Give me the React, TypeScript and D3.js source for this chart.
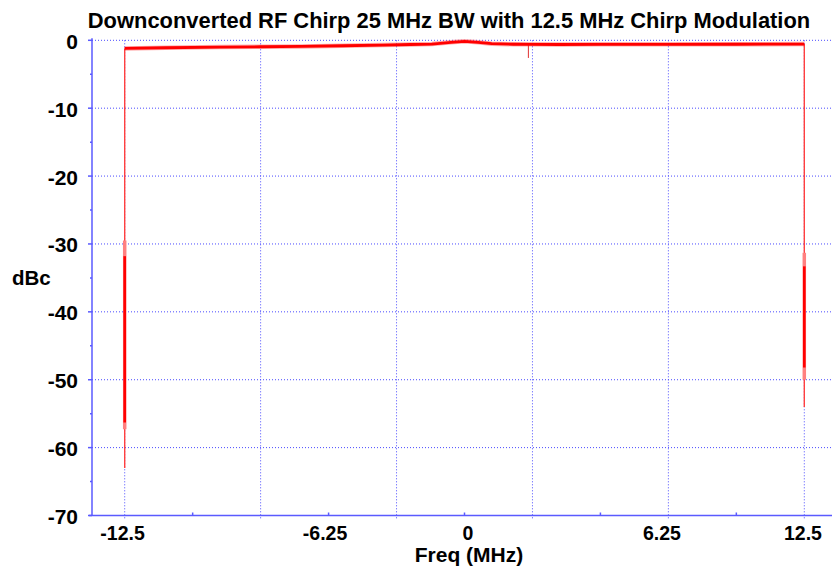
import React from "react";
import * as d3 from "d3";

// trace (MHz, dBc)
const freqMHz = [-12.5, -11, -9, -7.5, -6, -4.5, -3, -2, -1.2, -0.5, 0, 0.5, 1.0, 1.8, 2.4, 3.5, 5, 7.5, 10, 12.5];
const levelDb = [-1.2, -1.1, -1.0, -0.95, -0.9, -0.8, -0.7, -0.62, -0.55, -0.3, -0.15, -0.3, -0.5, -0.58, -0.6, -0.62, -0.6, -0.6, -0.58, -0.55];

// narrow drop-out spike on the flat top
const spikeFreq = [2.35];
const spikeDb = [-2.6];

// band edges: where the sweep drops away
const edgeFreq = [-12.5, 12.5];
const edgeFloor = [-63, -54];
const edgeBandTop = [-29.5, -31.3];
const edgeBandBottom = [-57.3, -50];
const edgeCoreTop = [-31.8, -33.3];
const edgeCoreBottom = [-56.3, -48.2];

const yTicks = [0, -10, -20, -30, -40, -50, -60, -70];
const yMinor = [-5, -15, -25, -35, -45, -55, -65];
const xGrid = [-12.5, -7.5, -2.5, 2.5, 7.5, 12.5];
const xMinor = [-10, -5, 0, 5, 10];
const xLabels = ["-12.5", "-6.25", "0", "6.25", "12.5"];
const xLabelAt = [-12.58, -5.13, 0.13, 7.26, 12.45];

const W = 832;
const H = 568;
const FONT = "Liberation Sans, Arial, sans-serif";
const GRID = "#4a4aff";
const AXIS = "#5a5aff";

export default function App() {
  const x = d3.scaleLinear().domain([-12.5, 12.5]).range([124.7, 804.3]);
  const y = d3.scaleLinear().domain([0, -70]).range([40.3, 515.5]);
  const x0 = 92;
  const yTop = y(0);
  const yBot = y(-70);

  const pts: [number, number][] = freqMHz.map((f, i) => [f, levelDb[i]]);
  const line = d3.line<[number, number]>()
    .x(d => x(d[0]))
    .y(d => y(d[1]));
  const path = line(pts) || "";
  const levelAt = d3.scaleLinear().domain(freqMHz).range(levelDb);

  return (
    <svg width={W} height={H} style={{ position: "absolute", left: 0, top: 0, background: "#fff" }}>
      <text x={449} y={28} textAnchor="middle" fontFamily={FONT} fontWeight="bold" fontSize={21.9} fill="#000">
        Downconverted RF Chirp 25 MHz BW with 12.5 MHz Chirp Modulation
      </text>

      {/* grid */}
      {yTicks.slice(0, -1).map(t => (
        <line key={"gy" + t} x1={x0} x2={W} y1={y(t)} y2={y(t)} stroke={GRID} strokeWidth={1} strokeDasharray="1,2" />
      ))}
      {xGrid.map(t => (
        <line key={"gx" + t} x1={x(t)} x2={x(t)} y1={yTop} y2={yBot + 3} stroke={GRID} strokeWidth={1} strokeDasharray="1,2" />
      ))}

      {/* axes */}
      <line x1={x0} x2={x0} y1={yTop - 2} y2={yBot} stroke={AXIS} strokeWidth={1.5} />
      <line x1={x0 - 3} x2={W} y1={yBot} y2={yBot} stroke={AXIS} strokeWidth={1.5} />
      {yTicks.map(t => (
        <line key={"ty" + t} x1={x0 - 4} x2={x0} y1={y(t)} y2={y(t)} stroke={AXIS} strokeWidth={1.5} />
      ))}
      {yMinor.map(t => (
        <line key={"my" + t} x1={x0 - 2} x2={x0} y1={y(t)} y2={y(t)} stroke={AXIS} strokeWidth={1.5} />
      ))}
      {xMinor.map(t => (
        <line key={"mx" + t} x1={x(t)} x2={x(t)} y1={yBot - 3} y2={yBot} stroke={AXIS} strokeWidth={1.5} />
      ))}

      {/* y labels */}
      {yTicks.map(t => (
        <text key={"ly" + t} x={78} y={y(t) + 8.5} textAnchor="end" fontFamily={FONT} fontWeight="bold" fontSize={21} fill="#000">
          {t}
        </text>
      ))}
      <text x={12} y={285} fontFamily={FONT} fontWeight="bold" fontSize={20.5} fill="#000">dBc</text>

      {/* x labels */}
      {xLabels.map((s, i) => (
        <text key={"lx" + s} x={x(xLabelAt[i])} y={540} textAnchor="middle" fontFamily={FONT} fontWeight="bold" fontSize={19.5} fill="#000">
          {s}
        </text>
      ))}
      <text x={469} y={562} textAnchor="middle" fontFamily={FONT} fontWeight="bold" fontSize={21} fill="#000">Freq (MHz)</text>

      {/* band edges */}
      {edgeFreq.map((f, i) => {
        const top = i === 0 ? levelDb[0] : levelDb[levelDb.length - 1];
        return (
          <g key={"e" + f}>
            <line x1={x(f)} x2={x(f)} y1={y(top)} y2={y(edgeFloor[i])} stroke="#ff4040" strokeWidth={1.4} />
            <line x1={x(f)} x2={x(f)} y1={y(edgeBandTop[i])} y2={y(edgeBandBottom[i])} stroke="#ff8080" strokeWidth={3.5} />
            <line x1={x(f)} x2={x(f)} y1={y(edgeCoreTop[i])} y2={y(edgeCoreBottom[i])} stroke="#ff0000" strokeWidth={2.6} />
          </g>
        );
      })}

      {/* spike */}
      {spikeFreq.map((f, i) => (
        <line key={"s" + f} x1={x(f)} x2={x(f)} y1={y(levelAt(f))} y2={y(spikeDb[i])} stroke="#e03030" strokeWidth={1} />
      ))}

      {/* trace */}
      <path d={path} fill="none" stroke="#ff3030" strokeOpacity={0.4} strokeWidth={4.5} strokeLinejoin="round" />
      <path d={path} fill="none" stroke="#ff0000" strokeWidth={2.8} strokeLinejoin="round" />
    </svg>
  );
}
